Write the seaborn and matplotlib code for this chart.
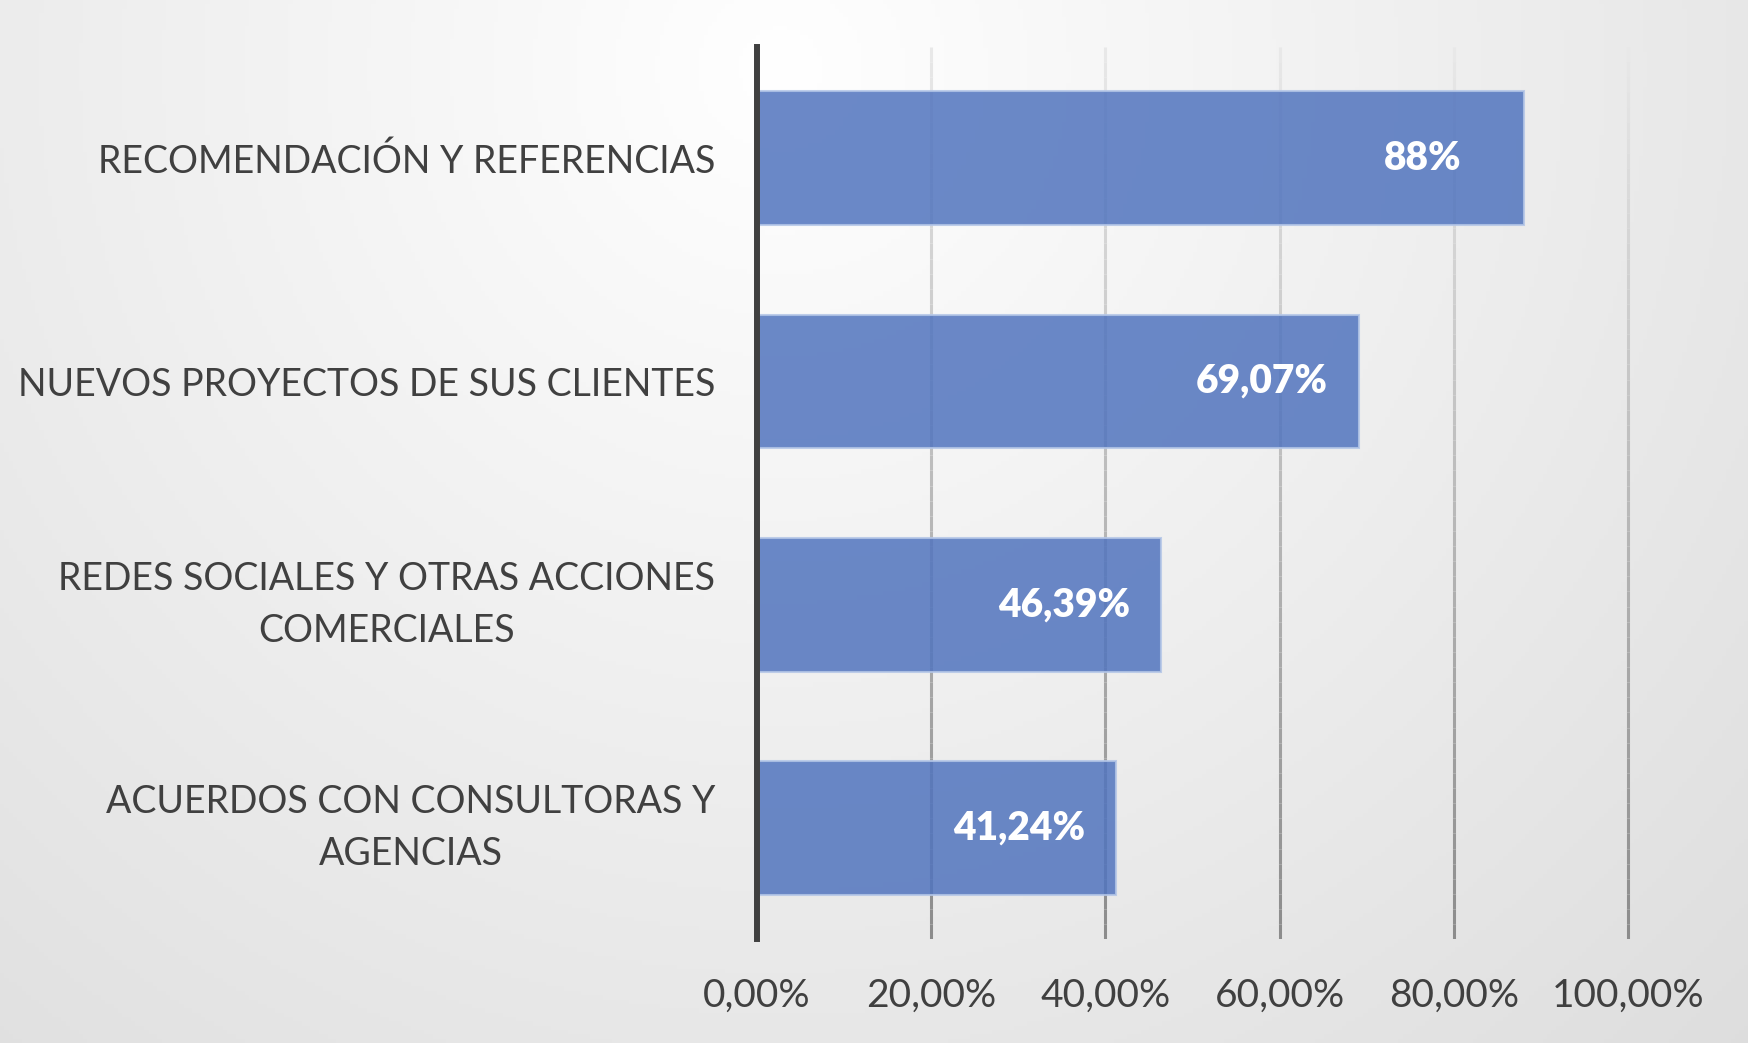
#Recreate horizontal bar chart of client acquisition channels
import matplotlib.pyplot as plt
import numpy as np
import pandas as pd
import seaborn as sb
from matplotlib.collections import LineCollection

#Data
categorias = ['RECOMENDACIÓN Y REFERENCIAS',
              'NUEVOS PROYECTOS DE SUS CLIENTES',
              'REDES SOCIALES Y OTRAS ACCIONES\nCOMERCIALES',
              'ACUERDOS CON CONSULTORAS Y\nAGENCIAS']
valores = [88.0, 69.07, 46.39, 41.24]
etiquetas = ['88%', '69,07%', '46,39%', '41,24%']
ticks_x = [0, 20, 40, 60, 80, 100]
ticks_x_labels = ['0,00%', '20,00%', '40,00%', '60,00%', '80,00%', '100,00%']

df = pd.DataFrame({'categoria': categorias, 'valor': valores})

sb.set_theme(style = 'white')
plt.rcParams['font.family'] = ['Lato', 'DejaVu Sans']

fig = plt.figure(figsize = (17.48, 10.43), dpi = 100)

#Background radial gradient
bg = fig.add_axes([0, 0, 1, 1], zorder = -10)
gx, gy = np.meshgrid(np.linspace(0, 1568, 400), np.linspace(0, 936, 240))
dist = np.sqrt((gx - 700) ** 2 + (gy - 60) ** 2)
shade = np.clip(255 - 0.027 * dist, 0, 255) / 255
bg.imshow(np.dstack([shade, shade, shade]), aspect = 'auto', extent = [0, 1, 0, 1])
bg.axis('off')

ax = fig.add_axes([0.433, 0.0994, 0.501, 0.8557])
ax.patch.set_alpha(0)

#Gradient gridlines (light at top, darker at bottom)
for t in ticks_x[1:]:
    ys = np.linspace(-0.5, 3.5, 60)
    segs = [[(t, ys[i]), (t, ys[i + 1])] for i in range(len(ys) - 1)]
    cols = [(g, g, g) for g in np.linspace(0.91, 0.55, len(segs))]
    ax.add_collection(LineCollection(segs, colors = cols, linewidths = 2.2, zorder = 0))

sb.barplot(data = df, x = 'valor', y = 'categoria', orient = 'h', color = '#5174BE',
           saturation = 1, alpha = 0.85, width = 0.6, edgecolor = '#B4C6E7', linewidth = 1.5,
           ax = ax, zorder = 2)

for bar, txt in zip(ax.patches, etiquetas):
    pad = -62 if txt == '88%' else -31
    ax.annotate(txt, (bar.get_width(), bar.get_y() + bar.get_height() / 2),
                xytext = (pad, 0), textcoords = 'offset pixels', ha = 'right', va = 'center',
                color = 'white', fontsize = 28, fontweight = 'heavy', zorder = 3)

ax.set_xlim(0, 100.5)
ax.set_ylim(3.5, -0.5)
ax.set_xticks(ticks_x)
ax.set_xticklabels(ticks_x_labels)
ax.set_xlabel('')
ax.set_ylabel('')

for s in ['top', 'right', 'bottom']:
    ax.spines[s].set_visible(False)
ax.spines['left'].set_color('#404040')
ax.spines['left'].set_linewidth(4.3)
ax.spines['left'].set_zorder(4)

ax.tick_params(axis = 'x', length = 0, pad = 28, labelsize = 28, labelcolor = '#404040')
ax.tick_params(axis = 'y', length = 0, pad = 30, labelsize = 27, labelcolor = '#404040')
for lbl in ax.get_yticklabels():
    lbl.set_multialignment('center')
    lbl.set_linespacing(1.55)
    if '\n' in lbl.get_text():
        lbl.set_verticalalignment('center')

plt.savefig('out.png', dpi = 100)
